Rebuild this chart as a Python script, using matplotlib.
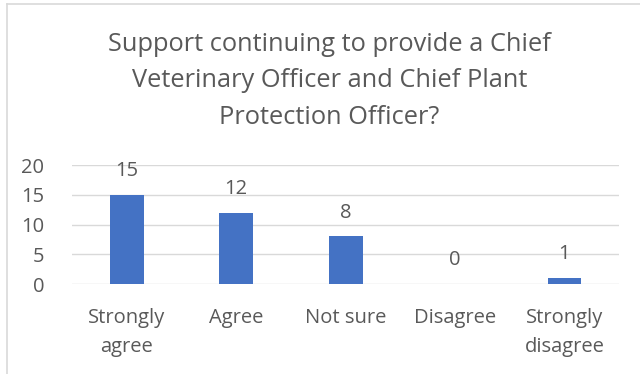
import numpy as np
import matplotlib.pyplot as plt
from matplotlib.lines import Line2D

categories = ["Strongly\nagree", "Agree", "Not sure", "Disagree", "Strongly\ndisagree"]
counts = [15, 12, 8, 0, 1]
yticks = [0, 5, 10, 15, 20]

title = ("Support continuing to provide a Chief\n"
         "Veterinary Officer and Chief Plant\n"
         "Protection Officer?")

text_color = "#595959"
bar_color = "#4472C4"
grid_color = "#D9D9D9"

plt.rcParams['font.family'] = ['Open Sans', 'DejaVu Sans']

fig = plt.figure(figsize=(6.4, 3.74), dpi=100)
ax = fig.add_axes([0.1125, 0.2406, 0.855, 0.3182])

x = np.arange(len(categories))
ax.bar(x, counts, width=0.31, color=bar_color, zorder=3)
for xi, v in zip(x, counts):
    ax.text(xi, v + 2.3, str(v), ha='center', va='bottom',
            fontsize=14.5, color=text_color)

ax.set_xlim(-0.5, len(categories) - 0.5)
ax.set_ylim(0, 20)
ax.set_yticks(yticks)
ax.set_xticks(x)
ax.set_xticklabels(categories, fontsize=14.5, color=text_color, linespacing=1.6)
ax.tick_params(axis='y', labelsize=14.5, labelcolor=text_color, length=0, pad=20)
ax.tick_params(axis='x', length=0, pad=17)
ax.grid(axis='y', color=grid_color, linewidth=1, zorder=0)
for s in ax.spines.values():
    s.set_visible(False)

fig.text(0.515, 0.915, title, ha='center', va='top', fontsize=18.3,
         color=text_color, linespacing=1.6)

# chart frame edges
fig.add_artist(Line2D([0.011, 0.011], [0, 0.99], color=grid_color, lw=1.2,
                      transform=fig.transFigure))
fig.add_artist(Line2D([0.011, 1.0], [0.99, 0.99], color=grid_color, lw=1.2,
                      transform=fig.transFigure))

fig.savefig("out.png", dpi=100)
